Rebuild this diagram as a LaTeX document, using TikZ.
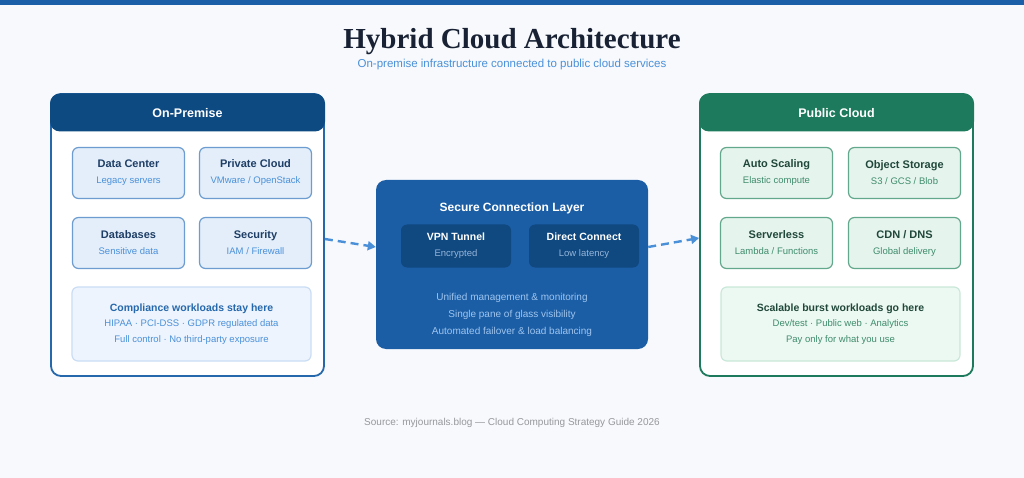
\documentclass[tikz,border=0pt]{standalone}
\usepackage{fontspec}
\setsansfont{Liberation Sans}
\newfontfamily\serifbold{Liberation Serif}
\usetikzlibrary{arrows.meta, positioning, backgrounds}
\definecolor{colBar}     {RGB}{ 26,  95, 168}
\definecolor{colPage}    {RGB}{247, 249, 252}
\definecolor{colTitle}   {RGB}{ 24,  34,  52}
\definecolor{colSubT}    {RGB}{ 74, 144, 217}
\definecolor{colPremHd}  {RGB}{ 14,  74, 130}
\definecolor{colPremBd}  {RGB}{ 38, 104, 172}
\definecolor{colPremBox} {RGB}{227, 238, 250}
\definecolor{colPremLn}  {RGB}{108, 156, 208}
\definecolor{colPremTx}  {RGB}{ 30,  62, 102}
\definecolor{colPremSub} {RGB}{ 74, 144, 217}
\definecolor{colPremNote}{RGB}{237, 244, 253}
\definecolor{colPremNLn} {RGB}{202, 221, 245}
\definecolor{colConn}    {RGB}{ 27,  94, 166}
\definecolor{colConnIn}  {RGB}{ 16,  72, 128}
\definecolor{colConnSub} {RGB}{150, 182, 218}
\definecolor{colConnLn}  {RGB}{158, 196, 238}
\definecolor{colCldHd}   {RGB}{ 30, 122,  92}
\definecolor{colCldBox}  {RGB}{230, 244, 238}
\definecolor{colCldLn}   {RGB}{ 98, 168, 140}
\definecolor{colCldTx}   {RGB}{ 32,  72,  58}
\definecolor{colCldSub}  {RGB}{ 62, 140, 108}
\definecolor{colCldNote} {RGB}{236, 248, 242}
\definecolor{colCldNLn}  {RGB}{202, 232, 217}
\definecolor{colArrow}   {RGB}{ 74, 144, 217}
\definecolor{colFoot}    {RGB}{150, 152, 156}
\newcommand{\subline}[2]{{\fontsize{9.5}{16}\selectfont\color{#1}#2}}
\tikzset{
  panel/.style={
    rectangle, rounded corners=10pt,
    draw=#1, fill=white, line width=1.8pt,
    minimum width=273pt, minimum height=282pt, inner sep=0pt
  },
  panelhead/.style={
    rectangle, rounded corners=10pt,
    fill=#1, text=white,
    font=\sffamily\bfseries\fontsize{12.5}{15}\selectfont,
    minimum width=275pt, minimum height=38pt, inner sep=0pt,
    text depth=-1.5pt
  },
  svcbox/.style 2 args={
    rectangle, rounded corners=6pt,
    draw=#1, fill=#2, line width=1.2pt,
    minimum width=112pt, minimum height=51pt,
    align=center, inner sep=0pt,
    font=\sffamily\fontsize{11}{16}\selectfont
  },
  notebox/.style 2 args={
    rectangle, rounded corners=6pt,
    draw=#1, fill=#2, line width=1.2pt,
    minimum width=239pt, minimum height=74pt,
    align=center, inner sep=0pt,
    font=\sffamily\fontsize{9.5}{15.5}\selectfont
  },
  linkbox/.style={
    rectangle, rounded corners=6pt, fill=colConnIn,
    minimum width=110pt, minimum height=43pt,
    align=center, inner sep=0pt, text=white,
    font=\sffamily\fontsize{10.5}{16}\selectfont
  },
  dasharrow/.style={
    -{Triangle[length=8pt, width=9pt]}, dash pattern=on 8pt off 5pt,
    line width=2.4pt, color=colArrow
  },
}

\begin{document}
\begin{tikzpicture}[x=1pt, y=-1pt]

%% ══════════════════════════════════════════════════════════════
%%  PAGE, TOP BAR, TITLES
%% ══════════════════════════════════════════════════════════════
\fill[colPage] (0,0) rectangle (1024,478);
\useasboundingbox (0,0) rectangle (1024,478);
\fill[colBar] (0,0) rectangle (1024,5);

\node[font=\serifbold\bfseries\fontsize{29}{32}\selectfont, text=colTitle]
  (title) at (512,42) {Hybrid Cloud Architecture};
\node[font=\sffamily\fontsize{11.5}{14}\selectfont, text=colSubT]
  (subtitle) at (512,64.5) {On-premise infrastructure connected to public cloud services};

%% ══════════════════════════════════════════════════════════════
%%  ON-PREMISE PANEL  (left)
%% ══════════════════════════════════════════════════════════════
\node[panel=colPremBd] (prem) at (187.5,235) {};
\node[panelhead=colPremHd] (premhd) at (187.5,112.5) {On-Premise};

\node[svcbox={colPremLn}{colPremBox}, text=colPremTx] (dc) at (128.5,173)
  {\bfseries Data Center\\\subline{colPremSub}{Legacy servers}};
\node[svcbox={colPremLn}{colPremBox}, text=colPremTx] (priv) at (255.5,173)
  {\bfseries Private Cloud\\\subline{colPremSub}{VMware / OpenStack}};
\node[svcbox={colPremLn}{colPremBox}, text=colPremTx] (db) at (128.5,243)
  {\bfseries Databases\\\subline{colPremSub}{Sensitive data}};
\node[svcbox={colPremLn}{colPremBox}, text=colPremTx] (sec) at (255.5,243)
  {\bfseries Security\\\subline{colPremSub}{IAM / Firewall}};

\node[notebox={colPremNLn}{colPremNote}, text=colPremSub] (comp) at (191.5,324)
  {{\fontsize{10.5}{18}\selectfont\bfseries\color{colPremBd}Compliance workloads stay here}\\
   HIPAA · PCI-DSS · GDPR regulated data\\
   Full control · No third-party exposure};

%% ══════════════════════════════════════════════════════════════
%%  SECURE CONNECTION LAYER  (centre)
%% ══════════════════════════════════════════════════════════════
\node[rectangle, rounded corners=10pt, fill=colConn,
      minimum width=272pt, minimum height=169pt] (conn) at (512,264.5) {};
\node[text=white, font=\sffamily\bfseries\fontsize{12}{14}\selectfont]
  (connhd) at (512,208) {Secure Connection Layer};

\node[linkbox] (vpn) at (456,246)
  {\bfseries VPN Tunnel\\\subline{colConnSub}{Encrypted}};
\node[linkbox] (direct) at (584,246)
  {\bfseries Direct Connect\\\subline{colConnSub}{Low latency}};

\node[text=colConnLn, align=center, font=\sffamily\fontsize{10}{16.8}\selectfont]
  (connnote) at (512,315)
  {Unified management \& monitoring\\
   Single pane of glass visibility\\
   Automated failover \& load balancing};

%% ══════════════════════════════════════════════════════════════
%%  PUBLIC CLOUD PANEL  (right)
%% ══════════════════════════════════════════════════════════════
\node[panel=colCldHd] (cloud) at (836.5,235) {};
\node[panelhead=colCldHd] (cloudhd) at (836.5,112.5) {Public Cloud};

\node[svcbox={colCldLn}{colCldBox}, text=colCldTx] (scale) at (776.5,173)
  {\bfseries Auto Scaling\\\subline{colCldSub}{Elastic compute}};
\node[svcbox={colCldLn}{colCldBox}, text=colCldTx] (store) at (904.5,173)
  {\bfseries Object Storage\\\subline{colCldSub}{S3 / GCS / Blob}};
\node[svcbox={colCldLn}{colCldBox}, text=colCldTx] (sless) at (776.5,243)
  {\bfseries Serverless\\\subline{colCldSub}{Lambda / Functions}};
\node[svcbox={colCldLn}{colCldBox}, text=colCldTx] (cdn) at (904.5,243)
  {\bfseries CDN / DNS\\\subline{colCldSub}{Global delivery}};

\node[notebox={colCldNLn}{colCldNote}, text=colCldSub] (burst) at (840.5,324)
  {{\fontsize{10.5}{18}\selectfont\bfseries\color{colCldTx}Scalable burst workloads go here}\\
   Dev/test · Public web · Analytics\\
   Pay only for what you use};

%% ── connectors ─────────────────────────────────────────────
\draw[dasharrow] ([yshift=-4pt]prem.east) -- ([yshift=17.5pt]conn.west);
\draw[dasharrow] ([yshift=17.5pt]conn.east) -- ([yshift=-3pt]cloud.west);

%% ══════════════════════════════════════════════════════════════
%%  FOOTER
%% ══════════════════════════════════════════════════════════════
\node[font=\sffamily\fontsize{10}{12}\selectfont, text=colFoot]
  (source) at (512,423) {Source: myjournals.blog — Cloud Computing Strategy Guide 2026};

\end{tikzpicture}
\end{document}
